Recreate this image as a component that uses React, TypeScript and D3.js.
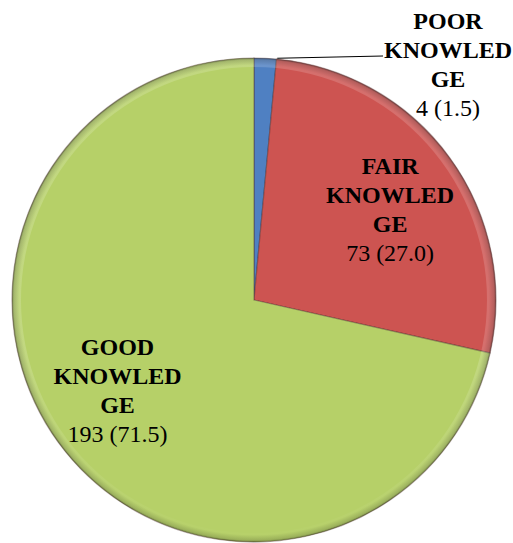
import * as d3 from 'd3'

// knowledge levels, counts and percentages
const categories = ['POOR KNOWLEDGE', 'FAIR KNOWLEDGE', 'GOOD KNOWLEDGE']
const counts = [4, 73, 193]
const percents = ['1.5', '27.0', '71.5']
const labelLines = [
  ['POOR', 'KNOWLED', 'GE'],
  ['FAIR', 'KNOWLED', 'GE'],
  ['GOOD', 'KNOWLED', 'GE'],
]
const colors = ['#4f80c2', '#cd5451', '#b6d068']

const width = 513
const height = 543
const cx = 254
const cy = 300
const radius = 242
const lineH = 29
const font = 'Liberation Serif'

export default function App() {
  const pie = d3.pie<number>().sort(null).value(d => d)
  const arcs = pie(counts)
  const arc = d3.arc<d3.PieArcDatum<number>>().innerRadius(0).outerRadius(radius)
  const labelArc = d3.arc<d3.PieArcDatum<number>>().innerRadius(radius * 0.66).outerRadius(radius * 0.7)
  const rim = d3.arc()({ innerRadius: radius - 9, outerRadius: radius, startAngle: 0, endAngle: 2 * Math.PI })!

  // nudges for label blocks (relative to centroid)
  const nudge = [[0, 0], [3, 6], [-8, -12]]

  const poorMid = (arcs[0].startAngle + arcs[0].endAngle) / 2
  const poorX = 448
  const poorFirst = 29

  return (
    <div>
      <style>{`body{margin:0}`}</style>
      <svg width={width} height={height} style={{ display: 'block', background: '#fff' }}>
        <defs>
          <linearGradient id="rimShade" x1="0" y1={cy - radius} x2="0" y2={cy + radius} gradientUnits="userSpaceOnUse">
            <stop offset="0" stopColor="#fff" stopOpacity={0.16} />
            <stop offset="0.4" stopColor="#fff" stopOpacity={0} />
            <stop offset="0.6" stopColor="#000" stopOpacity={0} />
            <stop offset="1" stopColor="#000" stopOpacity={0.12} />
          </linearGradient>
          <radialGradient id="edgeDark" cx={cx} cy={cy} r={radius} gradientUnits="userSpaceOnUse">
            <stop offset="0.97" stopColor="#000" stopOpacity={0} />
            <stop offset="0.992" stopColor="#000" stopOpacity={0.15} />
            <stop offset="1" stopColor="#000" stopOpacity={0.4} />
          </radialGradient>
        </defs>
        <g transform={`translate(${cx},${cy})`}>
          {arcs.map((a, i) => (
            <path key={categories[i]} d={arc(a)!} fill={colors[i]} stroke="#4a2a2a" strokeOpacity={0.4} strokeWidth={1.2} />
          ))}
        </g>
        <path d={rim} transform={`translate(${cx},${cy})`} fill="url(#rimShade)" />
        <circle cx={cx} cy={cy} r={radius} fill="url(#edgeDark)" />

        {/* leader line for the small slice */}
        <line
          x1={cx + Math.sin(poorMid) * radius + 12}
          y1={cy - Math.cos(poorMid) * radius}
          x2={poorX - 65}
          y2={poorFirst + lineH - 2}
          stroke="#000"
          strokeWidth={1.2}
        />

        {arcs.map((a, i) => {
          let x: number
          let y0: number
          if (i === 0) {
            x = poorX
            y0 = poorFirst
          } else {
            const [mx, my] = labelArc.centroid(a)
            x = cx + mx + nudge[i][0]
            y0 = cy + my + nudge[i][1] - lineH * 1.5 + 8
          }
          return (
            <g key={'l' + i}>
              {labelLines[i].map((t, j) => (
                <text key={j} x={x} y={y0 + j * lineH} textAnchor="middle"
                  fontFamily={font} fontSize={24} fontWeight="bold" fill="#000">{t}</text>
              ))}
              <text x={x} y={y0 + 3 * lineH} textAnchor="middle" fontFamily={font} fontSize={24} fill="#000">
                {`${counts[i]} (${percents[i]})`}
              </text>
            </g>
          )
        })}
      </svg>
    </div>
  )
}
